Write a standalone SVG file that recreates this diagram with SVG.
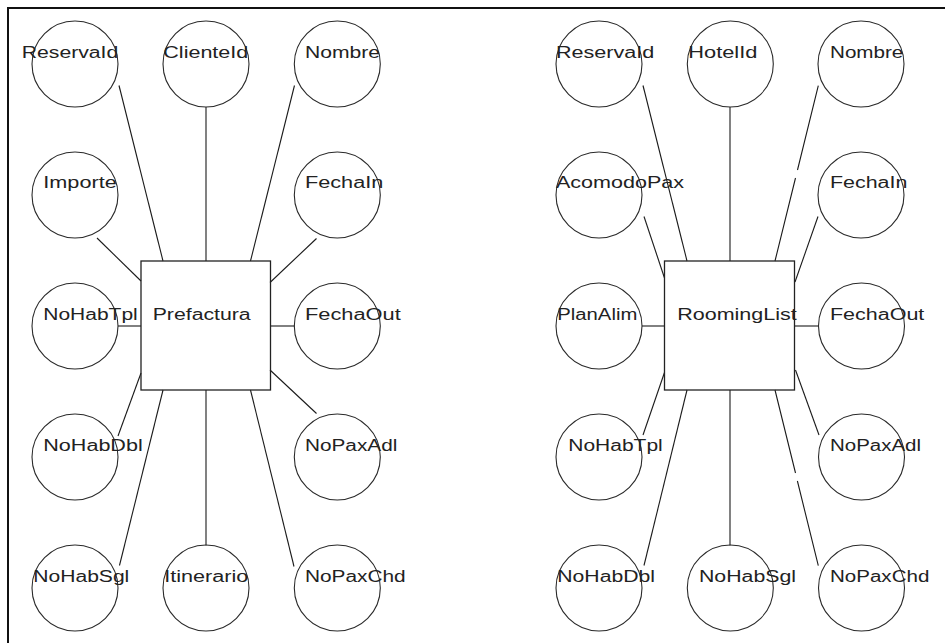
<svg xmlns="http://www.w3.org/2000/svg" width="945" height="643" viewBox="0 0 945 643">
  <style>
    .frame { fill: none; stroke: #111; stroke-width: 2; }
    .attr { fill: none; stroke: #2a2a2a; stroke-width: 1.1; }
    .entity { fill: none; stroke: #222; stroke-width: 1.3; }
    .link { fill: none; stroke: #1a1a1a; stroke-width: 1.1; }
    text { font-family: "Liberation Sans", Arial, sans-serif; font-size: 16px; fill: #222; }
  </style>

  <rect width="945" height="643" fill="#fff"/>
  <path class="frame" d="M8,643 V8 H945"/>

  <!-- connectors: attribute circles to their entity box -->
  <g id="connectors">
    <!-- Prefactura -->
    <path class="link" d="M119,85.5 L163,261"/>
    <path class="link" d="M206,107 L206,261"/>
    <path class="link" d="M294.5,85.5 L250.5,261"/>
    <path class="link" d="M97,238 L141,281"/>
    <path class="link" d="M316.5,238.5 L270,282.5"/>
    <path class="link" d="M118,326 L141,326"/>
    <path class="link" d="M270,326 L295,326"/>
    <path class="link" d="M141,373 L118,436"/>
    <path class="link" d="M270,370 L316.5,413.5"/>
    <path class="link" d="M163,390 L119.5,565.5"/>
    <path class="link" d="M206,390 L206,545.5"/>
    <path class="link" d="M250.5,390 L294,566.5"/>
    <!-- RoomingList -->
    <path class="link" d="M643,85.5 L687,261"/>
    <path class="link" d="M730,107 L730,261"/>
    <path class="link" d="M818.3,85.7 L797.5,170 M795.5,178 L775,261"/>
    <path class="link" d="M644,216.5 L664.5,278"/>
    <path class="link" d="M818,216.5 L795,282"/>
    <path class="link" d="M642,326 L664.5,326"/>
    <path class="link" d="M794.5,326 L819,326"/>
    <path class="link" d="M664.5,372.5 L643,435"/>
    <path class="link" d="M795.5,370 L819,435"/>
    <path class="link" d="M687,390 L644,565.5"/>
    <path class="link" d="M730,390 L730,545.5"/>
    <path class="link" d="M775,390 L795.5,473 M797.4,481 L818.3,565.7"/>
  </g>

  <!-- Prefactura entity and attributes -->
  <g id="prefactura">
    <rect class="entity" x="141" y="261" width="129.5" height="129"/>
    <text x="152.7" y="319.5" textLength="98" lengthAdjust="spacingAndGlyphs">Prefactura</text>
  </g>
  <g id="pf-reservaid"><circle class="attr" cx="75" cy="64" r="43"/><text x="21.7" y="58.3" textLength="96.6" lengthAdjust="spacingAndGlyphs">ReservaId</text></g>
  <g id="pf-clienteid"><circle class="attr" cx="206" cy="64" r="43"/><text x="163.3" y="58.3" textLength="85" lengthAdjust="spacingAndGlyphs">ClienteId</text></g>
  <g id="pf-nombre"><circle class="attr" cx="337.3" cy="64" r="43"/><text x="305" y="58.3" textLength="75" lengthAdjust="spacingAndGlyphs">Nombre</text></g>
  <g id="pf-importe"><circle class="attr" cx="75" cy="195" r="43"/><text x="43.3" y="188.3" textLength="73.4" lengthAdjust="spacingAndGlyphs">Importe</text></g>
  <g id="pf-fechain"><circle class="attr" cx="337.3" cy="195" r="43"/><text x="305" y="188.3" textLength="78.3" lengthAdjust="spacingAndGlyphs">FechaIn</text></g>
  <g id="pf-nohabtpl"><circle class="attr" cx="75" cy="326" r="43"/><text x="43.3" y="320" textLength="94.4" lengthAdjust="spacingAndGlyphs">NoHabTpl</text></g>
  <g id="pf-fechaout"><circle class="attr" cx="337.3" cy="326" r="43"/><text x="305" y="320" textLength="95.7" lengthAdjust="spacingAndGlyphs">FechaOut</text></g>
  <g id="pf-nohabdbl"><circle class="attr" cx="75" cy="457" r="43"/><text x="43.3" y="450.7" textLength="99.4" lengthAdjust="spacingAndGlyphs">NoHabDbl</text></g>
  <g id="pf-nopaxadl"><circle class="attr" cx="337.3" cy="457" r="43"/><text x="305" y="450.7" textLength="92.3" lengthAdjust="spacingAndGlyphs">NoPaxAdl</text></g>
  <g id="pf-nohabsgl"><circle class="attr" cx="75" cy="588" r="43"/><text x="33.3" y="581.5" textLength="96" lengthAdjust="spacingAndGlyphs">NoHabSgl</text></g>
  <g id="pf-itinerario"><circle class="attr" cx="206" cy="588" r="43"/><text x="164.3" y="581.5" textLength="84" lengthAdjust="spacingAndGlyphs">Itinerario</text></g>
  <g id="pf-nopaxchd"><circle class="attr" cx="337.3" cy="588" r="43"/><text x="305" y="581.5" textLength="100.7" lengthAdjust="spacingAndGlyphs">NoPaxChd</text></g>

  <!-- RoomingList entity and attributes -->
  <g id="roominglist">
    <rect class="entity" x="664.5" y="261" width="130" height="129"/>
    <text x="677.3" y="320" textLength="119.4" lengthAdjust="spacingAndGlyphs">RoomingList</text>
  </g>
  <g id="rl-reservaid"><circle class="attr" cx="599" cy="64" r="43"/><text x="556" y="58.3" textLength="98.3" lengthAdjust="spacingAndGlyphs">ReservaId</text></g>
  <g id="rl-hotelid"><circle class="attr" cx="730.3" cy="64" r="43"/><text x="688.3" y="58.3" textLength="69" lengthAdjust="spacingAndGlyphs">HotelId</text></g>
  <g id="rl-nombre"><circle class="attr" cx="861" cy="64" r="43"/><text x="830" y="58.3" textLength="73.3" lengthAdjust="spacingAndGlyphs">Nombre</text></g>
  <g id="rl-acomodopax"><circle class="attr" cx="599" cy="195" r="43"/><text x="556" y="188.3" textLength="128" lengthAdjust="spacingAndGlyphs">AcomodoPax</text></g>
  <g id="rl-fechain"><circle class="attr" cx="861" cy="195" r="43"/><text x="830" y="188.3" textLength="77.3" lengthAdjust="spacingAndGlyphs">FechaIn</text></g>
  <g id="rl-planalim"><circle class="attr" cx="599" cy="326" r="43"/><text x="557.3" y="320" textLength="80" lengthAdjust="spacingAndGlyphs">PlanAlim</text></g>
  <g id="rl-fechaout"><circle class="attr" cx="861.5" cy="326" r="43"/><text x="830" y="320" textLength="94.3" lengthAdjust="spacingAndGlyphs">FechaOut</text></g>
  <g id="rl-nohabtpl"><circle class="attr" cx="599" cy="457" r="43"/><text x="568.3" y="450.7" textLength="94.4" lengthAdjust="spacingAndGlyphs">NoHabTpl</text></g>
  <g id="rl-nopaxadl"><circle class="attr" cx="861.5" cy="457" r="43"/><text x="830" y="450.7" textLength="91" lengthAdjust="spacingAndGlyphs">NoPaxAdl</text></g>
  <g id="rl-nohabdbl"><circle class="attr" cx="599" cy="588" r="43"/><text x="557.3" y="581.5" textLength="97.7" lengthAdjust="spacingAndGlyphs">NoHabDbl</text></g>
  <g id="rl-nohabsgl"><circle class="attr" cx="730.3" cy="588" r="43"/><text x="699" y="581.5" textLength="97" lengthAdjust="spacingAndGlyphs">NoHabSgl</text></g>
  <g id="rl-nopaxchd"><circle class="attr" cx="861.5" cy="588" r="43"/><text x="830" y="581.5" textLength="99.3" lengthAdjust="spacingAndGlyphs">NoPaxChd</text></g>
</svg>
